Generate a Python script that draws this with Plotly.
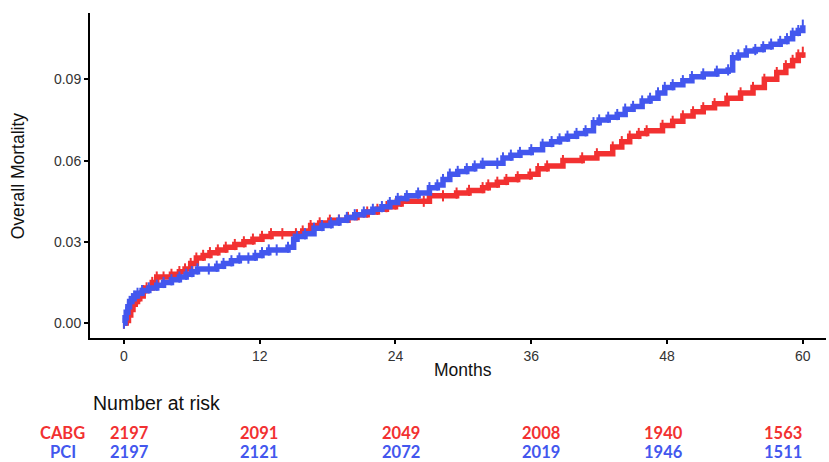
import plotly.graph_objects as go

# ---- data ----
cabg_t = [0, 0.2, 0.4, 0.6, 0.8, 1.0, 1.2, 1.4, 1.7, 2.0, 2.5, 2.9, 3.5, 4.2, 4.9, 5.4, 5.9, 6.4,
          7.0, 7.6, 8.3, 9.0, 9.8, 10.6, 11.4, 12.2, 13.0, 14.0, 15.2, 15.8, 16.5, 17.3, 18.2,
          19.0, 19.8, 20.6, 21.5, 22.4, 23.2, 24.0, 24.5, 26.5, 27.0, 28.2, 29.4, 30.5, 31.7,
          32.2, 33.0, 33.8, 34.8, 35.9, 36.6, 37.4, 38.8, 40.5, 41.8, 43.2, 44.0, 44.7, 45.5,
          46.2, 47.6, 48.5, 49.4, 50.3, 51.2, 52.2, 53.3, 54.5, 55.6, 56.6, 57.7, 58.5, 59.1,
          59.6, 60.0]
cabg_v = [0, 0.001, 0.003, 0.005, 0.007, 0.008, 0.009, 0.010, 0.012, 0.013, 0.015, 0.017, 0.017,
          0.018, 0.019, 0.020, 0.022, 0.024, 0.025, 0.026, 0.027, 0.028, 0.029, 0.030, 0.031,
          0.032, 0.033, 0.033, 0.033, 0.034, 0.036, 0.037, 0.038, 0.038, 0.039, 0.040, 0.041,
          0.042, 0.043, 0.044, 0.045, 0.045, 0.047, 0.047, 0.048, 0.049, 0.050, 0.051, 0.052,
          0.053, 0.054, 0.055, 0.057, 0.058, 0.060, 0.061, 0.0625, 0.065, 0.067, 0.069, 0.070,
          0.071, 0.073, 0.0745, 0.0765, 0.078, 0.0795, 0.081, 0.083, 0.085, 0.087, 0.090,
          0.0925, 0.095, 0.097, 0.099, 0.100]

pci_t = [0, 0.1, 0.2, 0.35, 0.5, 0.7, 0.9, 1.2, 1.6, 2.2, 2.9, 3.5, 4.2, 4.9, 5.5, 6.0, 6.5, 7.5,
         8.2, 8.8, 9.5, 10.2, 11.0, 11.6, 12.2, 12.8, 13.5, 14.5, 15.0, 15.3, 16.0, 16.8, 17.5,
         18.3, 19.0, 19.7, 20.4, 21.2, 22.0, 22.8, 23.5, 24.2, 25.0, 26.0, 27.0, 27.7, 28.2,
         28.8, 29.5, 30.3, 31.0, 31.7, 33.0, 33.5, 34.2, 35.0, 36.0, 37.0, 37.8, 38.5, 39.2,
         40.0, 40.8, 41.5, 42.0, 42.8, 43.6, 44.3, 45.0, 45.8, 46.5, 47.2, 47.8, 48.5, 49.4,
         50.2, 51.2, 52.4, 53.4, 53.8, 54.3, 55.0, 55.8, 56.5, 57.2, 58.0, 58.6, 59.1, 59.6,
         60.0]
pci_v = [0, 0.002, 0.004, 0.006, 0.008, 0.009, 0.010, 0.011, 0.012, 0.013, 0.014, 0.015, 0.016,
         0.017, 0.018, 0.019, 0.020, 0.020, 0.021, 0.022, 0.023, 0.024, 0.024, 0.025, 0.026,
         0.027, 0.027, 0.028, 0.031, 0.032, 0.033, 0.035, 0.036, 0.037, 0.038, 0.039, 0.040,
         0.041, 0.042, 0.043, 0.0445, 0.046, 0.047, 0.048, 0.050, 0.051, 0.053, 0.055, 0.056,
         0.057, 0.058, 0.059, 0.059, 0.061, 0.062, 0.063, 0.064, 0.066, 0.067, 0.068, 0.069,
         0.070, 0.071, 0.074, 0.075, 0.076, 0.077, 0.079, 0.080, 0.082, 0.083, 0.085, 0.087,
         0.088, 0.0895, 0.091, 0.092, 0.093, 0.0935, 0.098, 0.099, 0.1005, 0.101, 0.102,
         0.103, 0.104, 0.105, 0.107, 0.108, 0.110]

x_ticks = [0, 12, 24, 36, 48, 60]
y_ticks = [0.00, 0.03, 0.06, 0.09]
y_tick_labels = ["0.00", "0.03", "0.06", "0.09"]

groups = ["CABG", "PCI"]
risk_times = [0, 12, 24, 36, 48, 60]
risk_cabg = [2197, 2091, 2049, 2008, 1940, 1563]
risk_pci = [2197, 2121, 2072, 2019, 1946, 1511]

# ---- style ----
RED = "#F23131"
BLUE = "#4357EE"
risk_xshift = [6, -1, 6, 10, -4, -20]
BASE_FONT = "Liberation Sans, Arial, sans-serif"
RISK_FONT = "Lato, Inter, sans-serif"

fig = go.Figure()
for t, v, col, name in [(cabg_t, cabg_v, RED, groups[0]), (pci_t, pci_v, BLUE, groups[1])]:
    fig.add_trace(go.Scatter(
        x=t, y=v, name=name, mode="lines+markers",
        line=dict(color=col, width=5.5, shape="hv"),
        marker=dict(symbol="line-ns", size=8, color=col, line=dict(color=col, width=2)),
        showlegend=False, hoverinfo="x+y+name",
    ))

fig.update_layout(
    width=829, height=462,
    margin=dict(l=90, r=3, t=13, b=124, autoexpand=False),
    paper_bgcolor="white", plot_bgcolor="white",
    font=dict(family=BASE_FONT, color="#333333", size=14),
)
fig.update_xaxes(
    range=[-3, 62.05], tickvals=x_ticks, ticktext=[str(v) for v in x_ticks],
    showline=True, linecolor="black", linewidth=2, mirror=False, automargin=False,
    ticks="outside", ticklen=4, tickwidth=2, tickcolor="black",
    showgrid=False, zeroline=False, tickfont=dict(size=14, color="#333333"),
)
fig.update_yaxes(
    range=[-0.0055, 0.1145], tickvals=y_ticks, ticktext=y_tick_labels,
    showline=True, linecolor="black", linewidth=2, mirror=False, automargin=False,
    ticks="outside", ticklen=4, tickwidth=2, tickcolor="black",
    showgrid=False, zeroline=False, tickfont=dict(size=14, color="#333333"),
)

ann = []
ann.append(dict(text="Overall Mortality", xref="paper", yref="paper", x=-0.098, y=0.5,
                textangle=-90, showarrow=False, font=dict(size=17.5, color="#111111", family=BASE_FONT),
                xanchor="center", yanchor="middle"))
ann.append(dict(text="Months", xref="paper", yref="paper", x=0.507, y=-0.098,
                showarrow=False, font=dict(size=17.5, color="#111111", family=BASE_FONT),
                xanchor="center", yanchor="middle"))
ann.append(dict(text="Number at risk", xref="paper", yref="paper", x=0.002, y=-0.2,
                showarrow=False, font=dict(size=19.5, color="#111111", family=BASE_FONT),
                xanchor="left", yanchor="middle"))

row_y = [-0.293, -0.352]
for name, col, yy, vals in [(groups[0], RED, row_y[0], risk_cabg), (groups[1], BLUE, row_y[1], risk_pci)]:
    ann.append(dict(text="<b>%s</b>" % name, xref="paper", yref="paper", x=-0.0367, y=yy,
                    showarrow=False, font=dict(size=16.5, color=col, family=RISK_FONT),
                    xanchor="center", yanchor="middle"))
    for tt, n, xs in zip(risk_times, vals, risk_xshift):
        ann.append(dict(text="<b>%d</b>" % n, xref="x", yref="paper", x=tt, y=yy, xshift=xs,
                        showarrow=False, font=dict(size=16.5, color=col, family=RISK_FONT),
                        xanchor="center", yanchor="middle"))
fig.update_layout(annotations=ann)

fig.write_html("out.html", config={"displayModeBar": False},
               post_script="document.body.style.margin='0';document.body.style.overflow='hidden';")
